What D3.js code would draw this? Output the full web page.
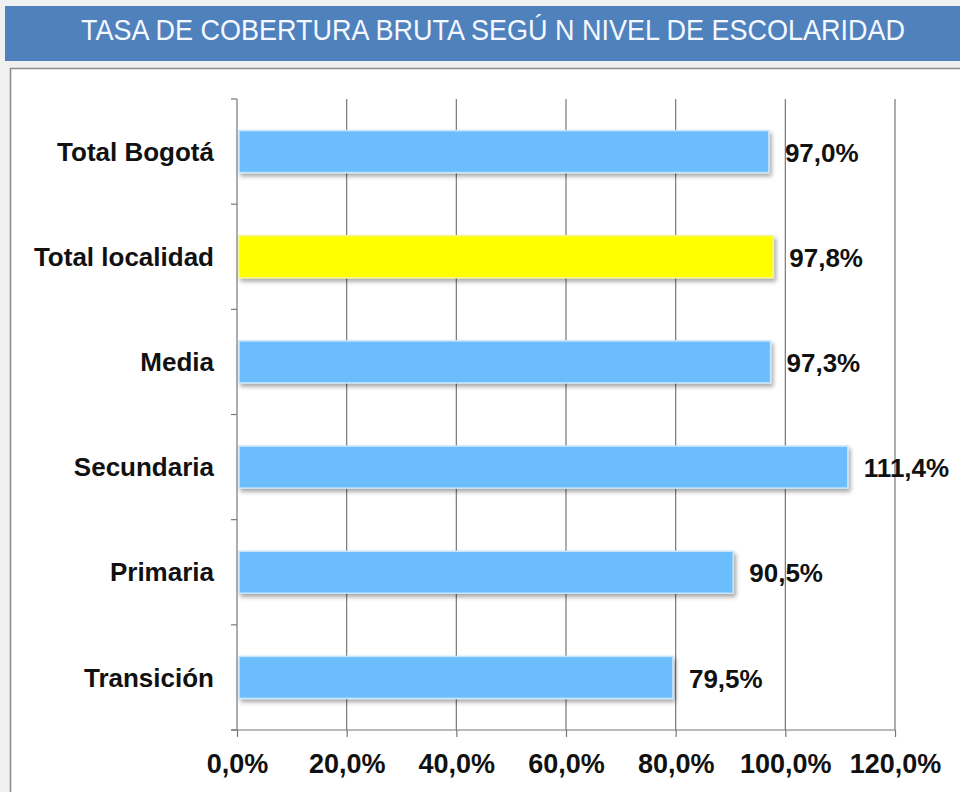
<!DOCTYPE html>
<html><head><meta charset="utf-8">
<script src="https://cdn.jsdelivr.net/npm/d3@7"></script>
<style>
html,body{margin:0;padding:0;background:#f0f0f0;}
svg{display:block;}
</style></head>
<body>
<svg id="c" width="960" height="792"></svg>
<script>
const categories = ["Total Bogotá","Total localidad","Media","Secundaria","Primaria","Transición"];
const values = [97.0, 97.8, 97.3, 111.4, 90.5, 79.5];
const highlight = ["Total localidad"];
const tickValues = [0,20,40,60,80,100,120];
const title = "TASA DE COBERTURA BRUTA SEGÚ N NIVEL DE ESCOLARIDAD";

const svg = d3.select("#c");
const defs = svg.append("defs");
const f = defs.append("filter").attr("id","sh").attr("x","-5%").attr("y","-20%").attr("width","110%").attr("height","160%");
f.append("feDropShadow").attr("dx",2).attr("dy",3).attr("stdDeviation",2).attr("flood-color","#000").attr("flood-opacity",0.35);

// background panels
svg.append("rect").attr("x",0).attr("y",0).attr("width",960).attr("height",792).attr("fill","#f0f0f0");
svg.append("rect").attr("x",5).attr("y",6).attr("width",960).attr("height",55).attr("fill","#4f81bd");
svg.append("text").attr("transform","translate(493,40) scale(1,1.1)").attr("text-anchor","middle")
  .attr("font-family","'Liberation Sans','Arial',sans-serif")
  .attr("font-size",27).attr("fill","#f4f8ff").text(title);
svg.append("rect").attr("x",10.5).attr("y",68.5).attr("width",960).attr("height",740)
  .attr("fill","#fff").attr("stroke","#8a8a8a").attr("stroke-width",1.5);

const x = d3.scaleLinear().domain([0,120]).range([237,895]);
const yb = d3.scaleBand().domain(categories).range([99,730]);

// gridlines
svg.append("g").selectAll("line").data(tickValues.slice(1)).join("line")
  .attr("x1",d=>x(d)).attr("x2",d=>x(d)).attr("y1",99).attr("y2",730)
  .attr("stroke","#777").attr("stroke-width",1.2);

// y axis
const yAxis = svg.append("g");
yAxis.append("line").attr("x1",237).attr("x2",237).attr("y1",99).attr("y2",730).attr("stroke","#777").attr("stroke-width",1.2);
const yTicks = categories.map(c=>yb(c)).concat([730]);
yAxis.selectAll("line.t").data(yTicks).join("line").attr("class","t")
  .attr("x1",231).attr("x2",237).attr("y1",d=>d).attr("y2",d=>d).attr("stroke","#777").attr("stroke-width",1.2);

// x axis
const xAxis = svg.append("g").attr("transform","translate(0,730)")
  .call(d3.axisBottom(x).tickValues(tickValues).tickSize(7).tickFormat(d=>d.toFixed(1).replace(".",",")+"%"));
xAxis.select(".domain").attr("stroke","#777").attr("stroke-width",1.2).attr("d","M231,0H895");
xAxis.selectAll(".tick line").attr("stroke","#777").attr("stroke-width",1.2);
xAxis.selectAll(".tick text").attr("y",43).attr("dy",0).attr("fill","#111")
  .attr("font-family","'Liberation Sans','Arial',sans-serif").attr("font-weight","bold").attr("font-size",27);

// bars
const barH = 42;
svg.append("g").selectAll("rect").data(categories).join("rect")
  .attr("x",x(0)+2).attr("y",d=>yb(d)+yb.bandwidth()/2-barH/2)
  .attr("width",(d,i)=>x(values[i])-x(0)-2).attr("height",barH)
  .attr("fill",d=>highlight.includes(d)?"#ffff00":"#6cbdfb")
  .attr("stroke",d=>highlight.includes(d)?"#f4f48a":"#c7e6fd").attr("stroke-width",1.5)
  .attr("filter","url(#sh)");

// category labels
svg.append("g").selectAll("text").data(categories).join("text")
  .attr("x",214).attr("y",d=>yb(d)+yb.bandwidth()/2).attr("dy","0.35em").attr("text-anchor","end")
  .attr("font-family","'Liberation Sans','Arial',sans-serif").attr("font-weight","bold").attr("font-size",26).attr("fill","#111")
  .text(d=>d);

// value labels
svg.append("g").selectAll("text").data(categories).join("text")
  .attr("x",(d,i)=>x(values[i])+16).attr("y",d=>yb(d)+yb.bandwidth()/2+1).attr("dy","0.35em")
  .attr("font-family","'Liberation Sans','Arial',sans-serif").attr("font-weight","bold").attr("font-size",26).attr("fill","#111")
  .text((d,i)=>values[i].toFixed(1).replace(".",",")+"%");
</script>
</body></html>
